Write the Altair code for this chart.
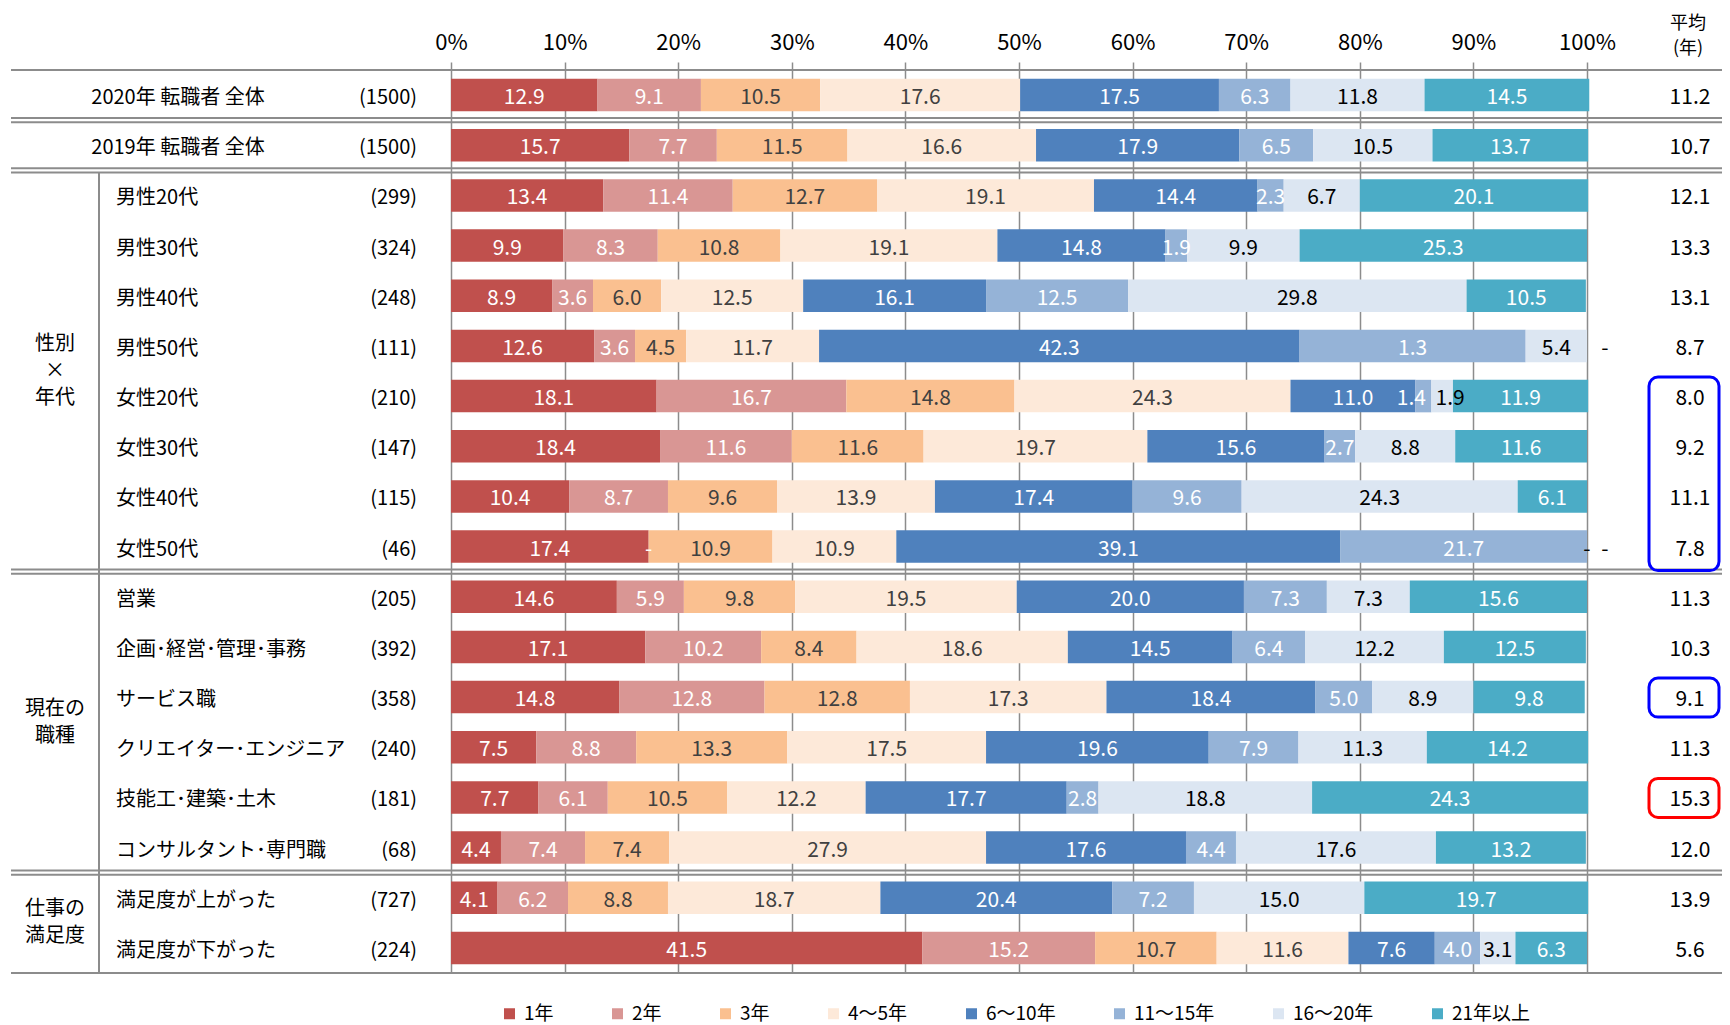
import altair as alt
import pandas as pd

# ---------------- data ----------------
categories = ["1年", "2年", "3年", "4～5年", "6～10年", "11～15年", "16～20年", "21年以上"]
colors = ["#C0504D", "#D99694", "#FAC090", "#FDE9D9", "#4F81BD", "#95B3D7", "#DCE6F2", "#4BACC6"]
label_colors = ["#FFFFFF", "#FFFFFF", "#404040", "#404040", "#FFFFFF", "#FFFFFF", "#000000", "#FFFFFF"]

row_labels = [
    "2020年 転職者 全体", "2019年 転職者 全体",
    "男性20代", "男性30代", "男性40代", "男性50代",
    "女性20代", "女性30代", "女性40代", "女性50代",
    "営業", "企画･経営･管理･事務", "サービス職", "クリエイター･エンジニア",
    "技能工･建築･土木", "コンサルタント･専門職",
    "満足度が上がった", "満足度が下がった",
]
sample_sizes = [1500, 1500, 299, 324, 248, 111, 210, 147, 115, 46, 205, 392, 358, 240, 181, 68, 727, 224]
mean_years = [11.2, 10.7, 12.1, 13.3, 13.1, 8.7, 8.0, 9.2, 11.1, 7.8, 11.3, 10.3, 9.1, 11.3, 15.3, 12.0, 13.9, 5.6]

share_1y = [12.9, 15.7, 13.4, 9.9, 8.9, 12.6, 18.1, 18.4, 10.4, 17.4, 14.6, 17.1, 14.8, 7.5, 7.7, 4.4, 4.1, 41.5]
share_2y = [9.1, 7.7, 11.4, 8.3, 3.6, 3.6, 16.7, 11.6, 8.7, 0.0, 5.9, 10.2, 12.8, 8.8, 6.1, 7.4, 6.2, 15.2]
share_3y = [10.5, 11.5, 12.7, 10.8, 6.0, 4.5, 14.8, 11.6, 9.6, 10.9, 9.8, 8.4, 12.8, 13.3, 10.5, 7.4, 8.8, 10.7]
share_4_5y = [17.6, 16.6, 19.1, 19.1, 12.5, 11.7, 24.3, 19.7, 13.9, 10.9, 19.5, 18.6, 17.3, 17.5, 12.2, 27.9, 18.7, 11.6]
share_6_10y = [17.5, 17.9, 14.4, 14.8, 16.1, 42.3, 11.0, 15.6, 17.4, 39.1, 20.0, 14.5, 18.4, 19.6, 17.7, 17.6, 20.4, 7.6]
share_11_15y = [6.3, 6.5, 2.3, 1.9, 12.5, 19.9, 1.4, 2.7, 9.6, 21.7, 7.3, 6.4, 5.0, 7.9, 2.8, 4.4, 7.2, 4.0]
share_16_20y = [11.8, 10.5, 6.7, 9.9, 29.8, 5.4, 1.9, 8.8, 24.3, 0.0, 7.3, 12.2, 8.9, 11.3, 18.8, 17.6, 15.0, 3.1]
share_21y_plus = [14.5, 13.7, 20.1, 25.3, 10.5, 0.0, 11.9, 11.6, 6.1, 0.0, 15.6, 12.5, 9.8, 14.2, 24.3, 13.2, 19.7, 6.3]

# label printed in the source differs from the drawn segment width here
label_overrides = {("男性50代", "11～15年"): "1.3"}
# labels nudged apart in the source (pixels)
label_nudges = {("女性20代", "11～15年"): -12, ("女性20代", "16～20年"): 8}

groups = [("性別\n×\n年代", 2, 9), ("現在の\n職種", 10, 15), ("仕事の\n満足度", 16, 17)]
highlight_boxes = [(6, 9, "#0000FF"), (12, 12, "#0000FF"), (14, 14, "#FF0000")]
double_line_after = [0, 1, 9, 15]

# ---------------- layout ----------------
FONT = "Noto Sans CJK JP"
PLOT_W, PLOT_H = 1136, 903
PAD = {"left": 443, "top": 62, "right": 135, "bottom": 52}
GRAY = "#8C8C8C"
TDY = 3
LINE_H = 27
n_rows = len(row_labels)
step = PLOT_H / n_rows

series = [share_1y, share_2y, share_3y, share_4_5y, share_6_10y, share_11_15y, share_16_20y, share_21y_plus]

recs = []
for i, row in enumerate(row_labels):
    cum = 0.0
    for j, cat in enumerate(categories):
        v = series[j][i]
        lab = label_overrides.get((row, cat), "-" if v == 0 else f"{v:.1f}")
        outside = (v == 0 and j == len(categories) - 1)
        recs.append({
            "row": row, "category": cat, "value": v,
            "x0": cum, "x1": cum + v, "mid": cum + v / 2,
            "label": lab,
            "lc": "#000000" if outside else label_colors[j],
            "dx": 18 if outside else label_nudges.get((row, cat), 0),
        })
        cum += v
df = pd.DataFrame(recs)

rows_df = pd.DataFrame({
    "row": row_labels,
    "n": [f"({n})" for n in sample_sizes],
    "mean": [f"{m:.1f}" for m in mean_years],
    "idx": list(range(n_rows)),
})

yscale = alt.Scale(domain=row_labels, paddingInner=0.352, paddingOuter=0.176)
Y = alt.Y("row:N", scale=yscale, axis=None)
xscale = alt.Scale(domain=[0, 100], nice=False, zero=True)
xaxis = alt.Axis(
    orient="top", values=list(range(0, 101, 10)), labelExpr="datum.value + '%'",
    grid=True, gridColor=GRAY, gridWidth=1.5, tickColor=GRAY, tickWidth=1.5, tickSize=8,
    domain=False, labelFontSize=22, labelColor="#000000", labelPadding=8, labelFont=FONT,
    labelFlush=False, labelOverlap=False, labelBound=False, title=None)

bars = alt.Chart(df[df["value"] > 0]).mark_bar().encode(
    x=alt.X("x0:Q", scale=xscale, axis=xaxis),
    x2="x1:Q",
    y=Y,
    color=alt.Color("category:N", scale=alt.Scale(domain=categories, range=colors), legend=alt.Legend(
        title=None, orient="none", direction="horizontal", legendX=49, legendY=934,
        symbolType="square", symbolSize=121, symbolStrokeWidth=0, labelFontSize=19, labelFont=FONT,
        labelColor="#000000", columnPadding=54, labelOffset=5, padding=0)),
)

label_layers = []
for c in sorted(set(df["lc"])):
    for d in sorted(set(df["dx"])):
        sub = df[(df["lc"] == c) & (df["dx"] == d)]
        if len(sub) == 0:
            continue
        label_layers.append(alt.Chart(sub).mark_text(
            font=FONT, fontSize=21, color=c, baseline="middle", align="center", dx=int(d), dy=TDY
        ).encode(x=alt.X("mid:Q", scale=xscale, axis=xaxis), y=Y, text="label:N"))

top_rows = rows_df[rows_df["idx"] < 2]
sub_rows = rows_df[rows_df["idx"] >= 2]
txt = dict(font=FONT, fontSize=20, color="#000000", baseline="middle")
top_lab = alt.Chart(top_rows).mark_text(align="center", dy=TDY, **txt).encode(
    x=alt.value(-273), y=Y, text="row:N")
sub_lab = alt.Chart(sub_rows).mark_text(align="left", dy=TDY, **txt).encode(
    x=alt.value(-335), y=Y, text="row:N")
n_lab = alt.Chart(rows_df).mark_text(align="right", dy=TDY, **txt).encode(
    x=alt.value(-34), y=Y, text="n:N")
mean_lab = alt.Chart(rows_df).mark_text(align="center", font=FONT, fontSize=21, color="#000000",
                                         baseline="middle", dy=TDY).encode(
    x=alt.value(1239), y=Y, text="mean:N")

grp_df = pd.DataFrame({
    "t": [g[0] for g in groups],
    "yp": [(g[1] + g[2] + 1) / 2 * step - (g[0].count("\n")) * LINE_H / 2 for g in groups],
})
grp_lab = alt.Chart(grp_df).mark_text(align="center", lineBreak="\n", lineHeight=LINE_H, **txt).encode(
    x=alt.value(-396), y=alt.Y("yp:Q", scale=None), text="t:N")

hdr_df = pd.DataFrame({"t": ["平均", "(年)"], "yp": [-46, -21]})
hdr = alt.Chart(hdr_df).mark_text(align="center", font=FONT, fontSize=18, color="#000000",
                                  baseline="middle").encode(
    x=alt.value(1237), y=alt.Y("yp:Q", scale=None), text="t:N")

sep_y = [0.0, float(PLOT_H)]
for i in double_line_after:
    b = (i + 1) * step
    sep_y += [b - 2.1, b + 2.1]
sep = alt.Chart(pd.DataFrame({"yp": sep_y})).mark_rule(color=GRAY, strokeWidth=2).encode(
    x=alt.value(-440), x2=alt.value(PLOT_W + PAD["right"]), y=alt.Y("yp:Q", scale=None))

vdiv = alt.Chart(pd.DataFrame({"a": [0]})).mark_rule(color=GRAY, strokeWidth=2).encode(
    x=alt.value(-352), y=alt.value(2 * step + 2.1), y2=alt.value(PLOT_H))

box_df = pd.DataFrame({
    "y0": [(b[0] + 0.5) * step - 19 for b in highlight_boxes],
    "y1": [(b[1] + 0.5) * step + (24 if b[1] > b[0] else 20) for b in highlight_boxes],
    "c": [b[2] for b in highlight_boxes],
})
boxes = alt.Chart(box_df).mark_rect(fillOpacity=0, strokeWidth=3, cornerRadius=9).encode(
    x=alt.value(1198), x2=alt.value(1268),
    y=alt.Y("y0:Q", scale=None), y2="y1:Q",
    stroke=alt.Stroke("c:N", scale=None))

chart = alt.layer(
    bars, *label_layers, top_lab, sub_lab, n_lab, mean_lab, grp_lab, hdr, sep, vdiv, boxes
).properties(
    width=PLOT_W, height=PLOT_H, padding=PAD, autosize=alt.AutoSizeParams(type="none")
).configure(font=FONT).configure_view(strokeWidth=0)

chart.save("out.html", embed_options={"renderer": "svg", "actions": False})
